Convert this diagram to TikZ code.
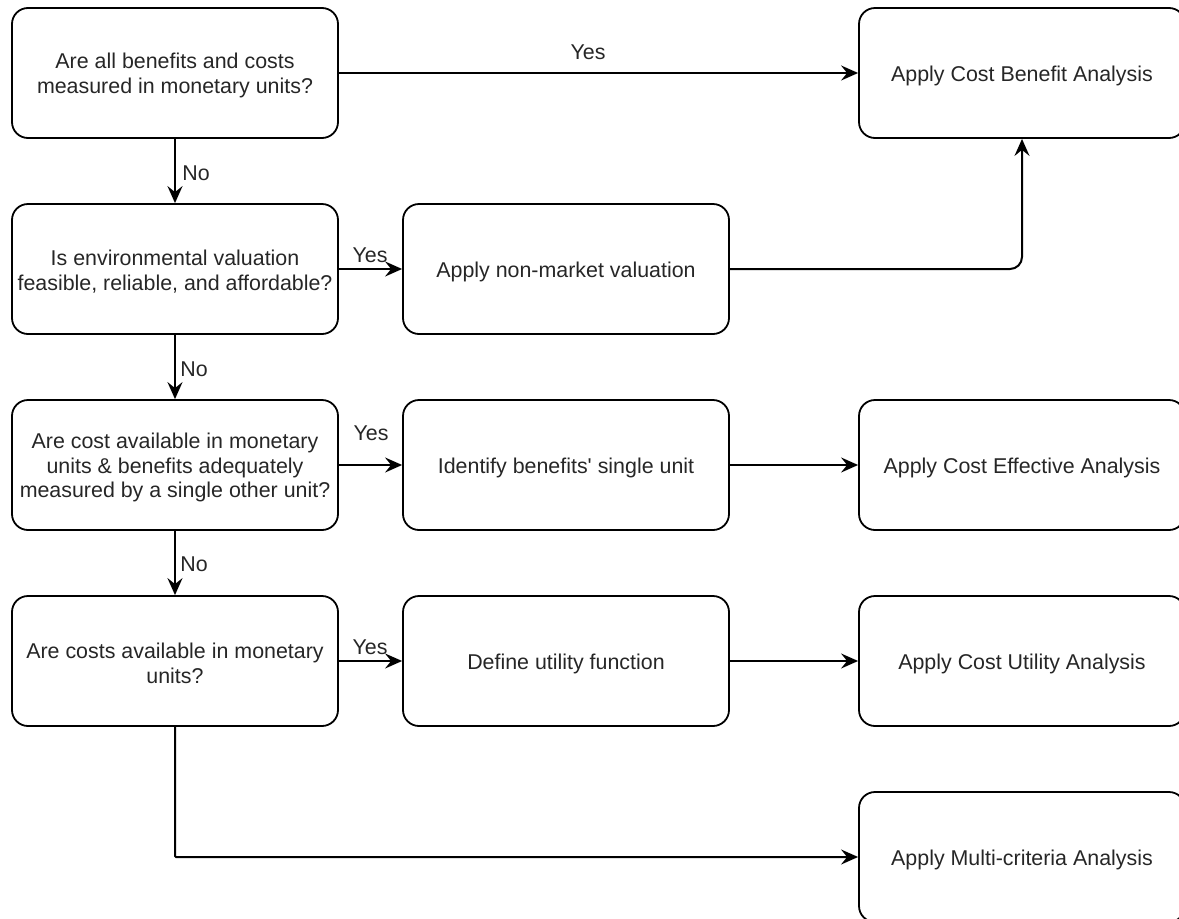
\documentclass[tikz,border=0pt]{standalone}
\usepackage{fontspec}
\setmainfont{Liberation Sans}
\usetikzlibrary{arrows.meta}
\begin{document}
\begin{tikzpicture}[x=1pt,y=-1pt,
  box/.style={draw=black,line width=1.8pt,rounded corners=16pt,minimum width=326pt,minimum height=130pt,inner sep=0pt},
  txt/.style={align=center,font=\fontsize{21.4}{24.5}\selectfont,inner sep=0pt,text=black!85,yshift=-2.5pt},
  conn/.style={line width=2pt,-{Stealth[length=17pt,width=15pt,inset=6pt]}},
  lbl/.style={font=\fontsize{21.4}{24}\selectfont,text=black!85,inner sep=0pt}]
\useasboundingbox (0,0) rectangle (1179,919);
\node[box] (q1) at (175,73) {};
\node[box] (q2) at (175,269) {};
\node[box] (q3) at (175,465) {};
\node[box] (q4) at (175,661) {};
\node[box] (m2) at (566,269) {};
\node[box] (m3) at (566,465) {};
\node[box] (m4) at (566,661) {};
\node[box] (r1) at (1022,73) {};
\node[box] (r3) at (1022,465) {};
\node[box] (r4) at (1022,661) {};
\node[box] (r5) at (1022,857) {};
\node[txt] (tq1) at (q1) {Are all benefits and costs\\measured in monetary units?};
\node[txt] (tq2) at (q2) {Is environmental valuation\\feasible, reliable, and affordable?};
\node[txt] (tq3) at (q3) {Are cost available in monetary\\units \& benefits adequately\\measured by a single other unit?};
\node[txt] (tq4) at (q4) {Are costs available in monetary\\units?};
\node[txt] (tm2) at (m2) {Apply non-market valuation};
\node[txt] (tm3) at (m3) {Identify benefits\textquotesingle{} single unit};
\node[txt] (tm4) at (m4) {Define utility function};
\node[txt] (tr1) at (r1) {Apply Cost Benefit Analysis};
\node[txt] (tr3) at (r3) {Apply Cost Effective Analysis};
\node[txt] (tr4) at (r4) {Apply Cost Utility Analysis};
\node[txt] (tr5) at (r5) {Apply Multi-criteria Analysis};
\coordinate (k1) at (1022,269);
\coordinate (k2) at (175,857);
\draw[conn] (q1) -- (r1);
\draw[conn] (q1) -- (q2);
\draw[conn] (q2) -- (q3);
\draw[conn] (q3) -- (q4);
\draw[conn] (q2) -- (m2);
\draw[conn] (q3) -- (m3);
\draw[conn] (q4) -- (m4);
\draw[conn] (m3) -- (r3);
\draw[conn] (m4) -- (r4);
\draw[conn,rounded corners=12pt] (m2.east) -- (k1) -- (r1.south);
\draw[conn,rounded corners=1pt] (q4.south) -- (k2) -- (r5.west);
\node[lbl] (y1) at (588,52) {Yes};
\node[lbl] (y2) at (370,255) {Yes};
\node[lbl] (y3) at (371,433) {Yes};
\node[lbl] (y4) at (370,647) {Yes};
\node[lbl] (n1) at (196,173) {No};
\node[lbl] (n2) at (194,369) {No};
\node[lbl] (n3) at (194,564) {No};
\end{tikzpicture}
\end{document}
